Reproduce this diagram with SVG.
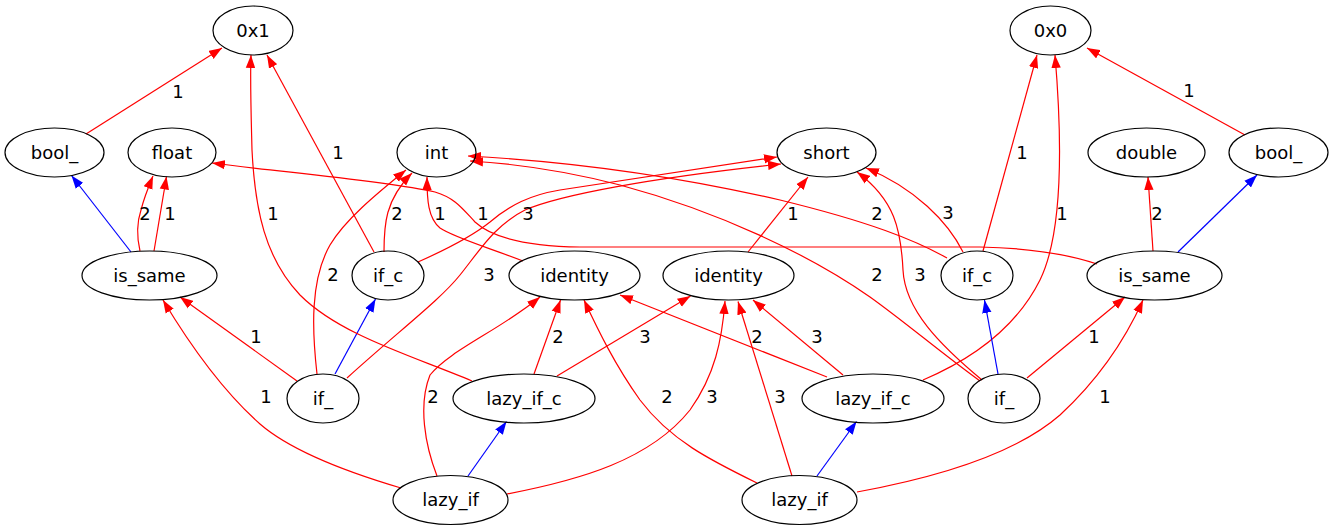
<svg xmlns="http://www.w3.org/2000/svg" width="1333" height="531" viewBox="0 0 1333 531">
  <style>
    .node ellipse { fill: none; stroke: #000; stroke-width: 1.2; }
    text { font-family: "DejaVu Sans", "Liberation Sans", sans-serif; font-size: 18px; fill: #000; text-anchor: middle; }
    .e { fill: none; stroke-width: 1.2; }
    .r { stroke: #ff0000; marker-end: url(#ahr); }
    .b { stroke: #0000ff; marker-end: url(#ahb); }
  </style>
  <defs>
    <marker id="ahr" viewBox="0 0 13 10" markerWidth="13" markerHeight="10" refX="13" refY="5" orient="auto" markerUnits="userSpaceOnUse">
      <path d="M0,0.3 L13,5 L0,9.7 Z" fill="#ff0000"/>
    </marker>
    <marker id="ahb" viewBox="0 0 13 10" markerWidth="13" markerHeight="10" refX="13" refY="5" orient="auto" markerUnits="userSpaceOnUse">
      <path d="M0,0.3 L13,5 L0,9.7 Z" fill="#0000ff"/>
    </marker>
  </defs>
  <rect width="1333" height="531" fill="#fff"/>

  <g id="connectors">
    <!-- bool_ (left) -> 0x1 -->
    <path class="e r" d="M86,134 L222,48"/>
    <!-- is_same (left) -> bool_ -->
    <path class="e b" d="M131,252 L71.5,175.5"/>
    <!-- is_same (left) -> float -->
    <path class="e r" d="M140,251 C137,238 136,225 141,210 C144,198 148,188 153,176"/>
    <path class="e r" d="M154,251 L166.5,176.5"/>
    <!-- if_ (left) -> is_same -->
    <path class="e r" d="M297,381 L180,297"/>
    <!-- lazy_if (left) -> is_same -->
    <path class="e r" d="M401,488 C340,470 290,450 260,424 C225,393 190,345 163,300"/>
    <!-- if_ (left) -> int -->
    <path class="e r" d="M317,374 C312,330 310,280 330,245 C345,220 375,195 406,170"/>
    <!-- if_ (left) -> if_c -->
    <path class="e b" d="M335,374 L375.5,299"/>
    <!-- if_ (left) -> short -->
    <path class="e r" d="M347,378 C400,330 440,300 460,275 C480,250 495,225 525,210 C560,195 650,178 781,164"/>
    <!-- lazy_if_c (left) -> 0x1 -->
    <path class="e r" d="M472,381 C410,355 340,335 300,295 C265,258 255,210 252,150 C251,110 250,80 251,55"/>
    <!-- if_c (left) -> 0x1 -->
    <path class="e r" d="M374,252 L267,55"/>
    <!-- if_c (left) -> int -->
    <path class="e r" d="M384,252 C384,225 385,200 412,173"/>
    <!-- if_c (left) -> short -->
    <path class="e r" d="M418,262 C445,250 470,238 490,222 C510,205 530,195 560,190 L777,157"/>
    <!-- identity (left) -> int -->
    <path class="e r" d="M523,261 C490,248 455,238 440,228 C428,218 427,200 427,177"/>
    <!-- is_same (right) -> float -->
    <path class="e r" d="M1097,264 C1070,255 1030,248 980,247 L580,247 C520,246 490,236 475,222 C462,208 455,198 435,192 C380,180 280,172 212,163"/>
    <!-- if_c (right) -> int -->
    <path class="e r" d="M947,258 C915,240 870,222 780,200 C680,177 580,162 468,156"/>
    <!-- if_ (right) -> int -->
    <path class="e r" d="M980,381 C940,352 905,322 870,297 C810,255 720,212 620,185 C570,172 520,164 470,161"/>
    <!-- identity (right) -> short -->
    <path class="e r" d="M748,252 L808,177"/>
    <!-- if_c (right) -> short -->
    <path class="e r" d="M963,252 C948,222 915,188 866,168"/>
    <!-- if_ (right) -> short -->
    <path class="e r" d="M982,380 C940,345 905,310 903,270 C901,230 895,200 857,172"/>
    <!-- lazy_if_c (left) -> identity -->
    <path class="e r" d="M534,374 L560.5,300"/>
    <path class="e r" d="M557,376 L690.5,296"/>
    <!-- lazy_if (left) -> identity -->
    <path class="e r" d="M437,476 C425,445 418,405 430,375 C450,350 500,330 540,297"/>
    <path class="e r" d="M507,494 C580,480 650,460 690,410 C715,375 722,340 725,301"/>
    <!-- lazy_if (left) -> lazy_if_c -->
    <path class="e b" d="M468,476 L506.5,421.5"/>
    <!-- lazy_if (right) -> identity -->
    <path class="e r" d="M757,483 C710,460 670,440 640,400 C615,365 598,330 584,300"/>
    <path class="e r" d="M792,476 L738,301.5"/>
    <!-- lazy_if (right) -> lazy_if_c -->
    <path class="e b" d="M817,476 L856.5,421.5"/>
    <!-- lazy_if (right) -> is_same -->
    <path class="e r" d="M857,492 C950,475 1020,450 1060,415 C1100,378 1125,340 1143,300"/>
    <!-- lazy_if_c (right) -> identity -->
    <path class="e r" d="M827,377 L620,295"/>
    <path class="e r" d="M843,375 L753,300"/>
    <!-- lazy_if_c (right) -> 0x0 -->
    <path class="e r" d="M923,380 C970,360 1015,330 1040,280 C1062,235 1063,150 1055,55"/>
    <!-- if_ (right) -> is_same -->
    <path class="e r" d="M1027,378 L1125,297"/>
    <!-- if_ (right) -> if_c -->
    <path class="e b" d="M998,374 L984.5,300"/>
    <!-- if_c (right) -> 0x0 -->
    <path class="e r" d="M983,251 L1037,55"/>
    <!-- bool_ (right) -> 0x0 -->
    <path class="e r" d="M1245,135 L1087,48"/>
    <!-- is_same (right) -> double -->
    <path class="e r" d="M1153,251 L1148,177"/>
    <!-- is_same (right) -> bool_ -->
    <path class="e b" d="M1178,252 L1257,175"/>

    <!-- edge labels -->
    <g id="edge-labels">
      <text x="178" y="97.5">1</text>
      <text x="1189" y="97">1</text>
      <text x="338" y="159">1</text>
      <text x="1022" y="158.5">1</text>
      <text x="145" y="219.5">2</text>
      <text x="170" y="219.5">1</text>
      <text x="273" y="219.5">1</text>
      <text x="397" y="219.5">2</text>
      <text x="440" y="219.5">1</text>
      <text x="483" y="219.5">1</text>
      <text x="528" y="219.5">3</text>
      <text x="793" y="219.5">1</text>
      <text x="877" y="219.5">2</text>
      <text x="948" y="219">3</text>
      <text x="1062" y="219.5">1</text>
      <text x="1157" y="219.5">2</text>
      <text x="333" y="281">2</text>
      <text x="489" y="281">3</text>
      <text x="877" y="281">2</text>
      <text x="920" y="281">3</text>
      <text x="256" y="342.5">1</text>
      <text x="558" y="343">2</text>
      <text x="645" y="343">3</text>
      <text x="757" y="343">2</text>
      <text x="817" y="343">3</text>
      <text x="1094" y="343">1</text>
      <text x="266" y="403">1</text>
      <text x="433" y="403">2</text>
      <text x="667" y="402.5">2</text>
      <text x="712" y="402.5">3</text>
      <text x="780" y="402.5">3</text>
      <text x="1105" y="403">1</text>
    </g>
  </g>

  <g id="n_0x1" class="node"><ellipse cx="253" cy="30.5" rx="40" ry="24.5"/><text x="253" y="36.5">0x1</text></g>
  <g id="n_0x0" class="node"><ellipse cx="1050.5" cy="30.5" rx="40.5" ry="24.5"/><text x="1050.5" y="36.5">0x0</text></g>
  <g id="n_bool_l" class="node"><ellipse cx="54.5" cy="152.5" rx="49.5" ry="24.5"/><text x="54.5" y="158.5">bool_</text></g>
  <g id="n_float" class="node"><ellipse cx="172" cy="152.5" rx="44" ry="24.5"/><text x="172" y="158.5">float</text></g>
  <g id="n_int" class="node"><ellipse cx="436.5" cy="152.5" rx="39.5" ry="24.5"/><text x="436.5" y="158.5">int</text></g>
  <g id="n_short" class="node"><ellipse cx="826.5" cy="152.5" rx="49.5" ry="24.5"/><text x="826.5" y="158.5">short</text></g>
  <g id="n_double" class="node"><ellipse cx="1146.5" cy="152.5" rx="58.5" ry="24.5"/><text x="1146.5" y="158.5">double</text></g>
  <g id="n_bool_r" class="node"><ellipse cx="1278.5" cy="152.5" rx="49.5" ry="24.5"/><text x="1278.5" y="158.5">bool_</text></g>
  <g id="n_is_same_l" class="node"><ellipse cx="149.5" cy="275.5" rx="67.5" ry="24.5"/><text x="149.5" y="281.5">is_same</text></g>
  <g id="n_if_c_l" class="node"><ellipse cx="388" cy="275.5" rx="36" ry="24.5"/><text x="388" y="281.5">if_c</text></g>
  <g id="n_identity_l" class="node"><ellipse cx="574.5" cy="275.5" rx="65.5" ry="24.5"/><text x="574.5" y="281.5">identity</text></g>
  <g id="n_identity_r" class="node"><ellipse cx="728.5" cy="275.5" rx="65.5" ry="24.5"/><text x="728.5" y="281.5">identity</text></g>
  <g id="n_if_c_r" class="node"><ellipse cx="977" cy="275.5" rx="36" ry="24.5"/><text x="977" y="281.5">if_c</text></g>
  <g id="n_is_same_r" class="node"><ellipse cx="1154.5" cy="275.5" rx="67.5" ry="24.5"/><text x="1154.5" y="281.5">is_same</text></g>
  <g id="n_if_l" class="node"><ellipse cx="323" cy="398.5" rx="36" ry="24.5"/><text x="323" y="404.5">if_</text></g>
  <g id="n_lazy_if_c_l" class="node"><ellipse cx="524" cy="398.5" rx="71" ry="24.5"/><text x="524" y="404.5">lazy_if_c</text></g>
  <g id="n_lazy_if_c_r" class="node"><ellipse cx="873" cy="398.5" rx="71" ry="24.5"/><text x="873" y="404.5">lazy_if_c</text></g>
  <g id="n_if_r" class="node"><ellipse cx="1004" cy="398.5" rx="36" ry="24.5"/><text x="1004" y="404.5">if_</text></g>
  <g id="n_lazy_if_l" class="node"><ellipse cx="450.5" cy="500" rx="57.5" ry="24.5"/><text x="450.5" y="506">lazy_if</text></g>
  <g id="n_lazy_if_r" class="node"><ellipse cx="799.5" cy="500" rx="57.5" ry="24.5"/><text x="799.5" y="506">lazy_if</text></g>
</svg>
